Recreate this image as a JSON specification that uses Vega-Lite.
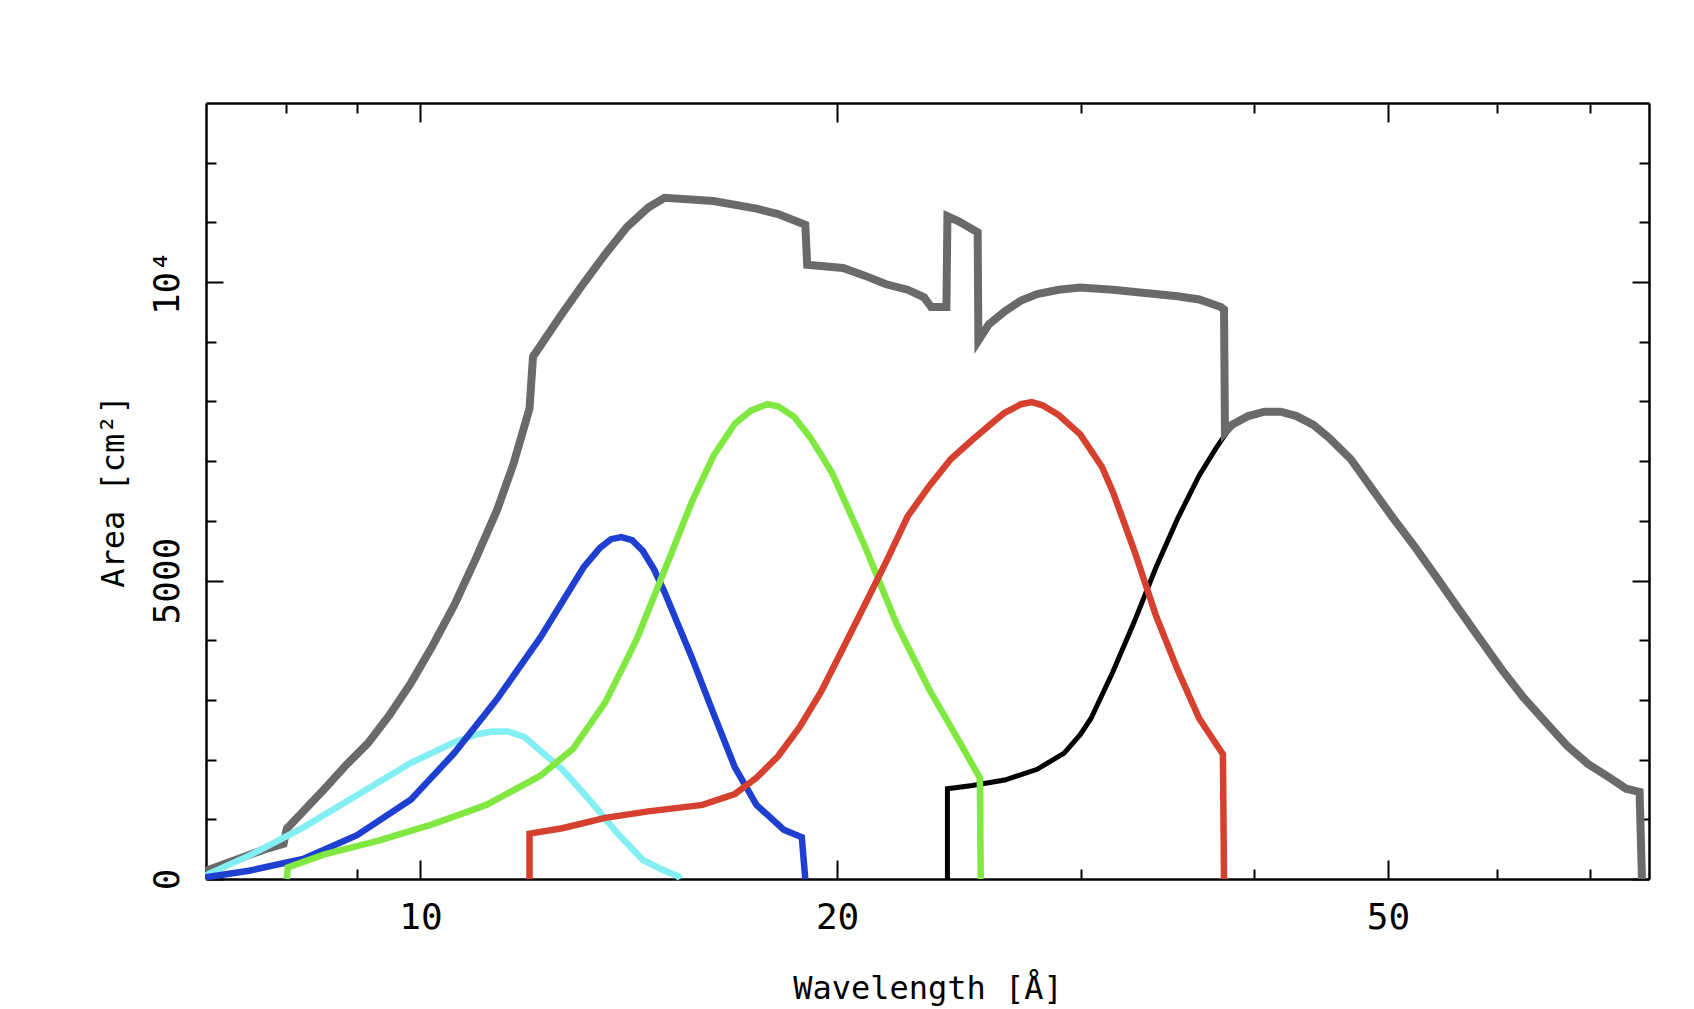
{
  "$schema": "https://vega.github.io/schema/vega-lite/v6.json",
  "width": 1443,
  "height": 776,
  "autosize": {"type": "none"},
  "padding": {"left": 206, "top": 103, "right": 45, "bottom": 130},
  "background": "white",
  "config": {"view": {"stroke": null}},
  "data": {"values": [
    {"s":"black","o":1,"w":24.03,"a":0},{"s":"black","o":2,"w":24.03,"a":1513},{"s":"black","o":3,"w":25.05,"a":1567},{"s":"black","o":4,"w":26.43,"a":1658},{"s":"black","o":5,"w":27.90,"a":1838},{"s":"black","o":6,"w":29.18,"a":2110},{"s":"black","o":7,"w":29.97,"a":2418},{"s":"black","o":8,"w":30.51,"a":2689},{"s":"black","o":9,"w":31.64,"a":3467},{"s":"black","o":10,"w":32.80,"a":4317},{"s":"black","o":11,"w":34.00,"a":5223},{"s":"black","o":12,"w":35.24,"a":6037},{"s":"black","o":13,"w":36.53,"a":6761},{"s":"black","o":14,"w":37.56,"a":7213},{"s":"black","o":15,"w":38.58,"a":7611},
    {"s":"total","o":1,"w":7.0,"a":138},{"s":"total","o":2,"w":7.386,"a":337},{"s":"total","o":3,"w":7.725,"a":500},{"s":"total","o":4,"w":7.964,"a":590},{"s":"total","o":5,"w":8.007,"a":843},{"s":"total","o":6,"w":8.527,"a":1513},{"s":"total","o":7,"w":8.839,"a":1911},{"s":"total","o":8,"w":9.162,"a":2273},{"s":"total","o":9,"w":9.497,"a":2743},{"s":"total","o":10,"w":9.845,"a":3286},{"s":"total","o":11,"w":10.20,"a":3901},{"s":"total","o":12,"w":10.58,"a":4589},{"s":"total","o":13,"w":10.965,"a":5367},{"s":"total","o":14,"w":11.36,"a":6181},{"s":"total","o":15,"w":11.67,"a":6942},{"s":"total","o":16,"w":11.99,"a":7882},{"s":"total","o":17,"w":12.06,"a":8750},{"s":"total","o":18,"w":12.66,"a":9473},{"s":"total","o":19,"w":13.12,"a":9980},{"s":"total","o":20,"w":13.60,"a":10467},{"s":"total","o":21,"w":14.10,"a":10923},{"s":"total","o":22,"w":14.61,"a":11249},{"s":"total","o":23,"w":15.01,"a":11411},{"s":"total","o":24,"w":16.28,"a":11357},{"s":"total","o":25,"w":17.49,"a":11230},{"s":"total","o":26,"w":18.13,"a":11140},{"s":"total","o":27,"w":18.97,"a":10959},{"s":"total","o":28,"w":19.03,"a":10289},{"s":"total","o":29,"w":20.20,"a":10235},{"s":"total","o":30,"w":20.94,"a":10108},{"s":"total","o":31,"w":21.70,"a":9963},{"s":"total","o":32,"w":22.49,"a":9872},{"s":"total","o":33,"w":23.11,"a":9745},{"s":"total","o":34,"w":23.39,"a":9582},{"s":"total","o":35,"w":23.99,"a":9582},{"s":"total","o":36,"w":24.03,"a":11104},{"s":"total","o":37,"w":24.5,"a":11014},{"s":"total","o":38,"w":25.27,"a":10832},{"s":"total","o":39,"w":25.3,"a":9021},{"s":"total","o":40,"w":25.74,"a":9292},{"s":"total","o":41,"w":26.43,"a":9509},{"s":"total","o":42,"w":27.16,"a":9691},{"s":"total","o":43,"w":27.90,"a":9800},{"s":"total","o":44,"w":28.92,"a":9872},{"s":"total","o":45,"w":29.97,"a":9908},{"s":"total","o":46,"w":31.64,"a":9872},{"s":"total","o":47,"w":33.39,"a":9818},{"s":"total","o":48,"w":35.24,"a":9763},{"s":"total","o":49,"w":36.53,"a":9709},{"s":"total","o":50,"w":37.87,"a":9582},{"s":"total","o":51,"w":38.07,"a":9540},{"s":"total","o":52,"w":38.13,"a":7484},{"s":"total","o":53,"w":38.58,"a":7611},{"s":"total","o":54,"w":39.64,"a":7755},{"s":"total","o":55,"w":40.72,"a":7828},{"s":"total","o":56,"w":41.83,"a":7828},{"s":"total","o":57,"w":42.95,"a":7755},{"s":"total","o":58,"w":44.15,"a":7611},{"s":"total","o":59,"w":45.33,"a":7394},{"s":"total","o":60,"w":47.01,"a":7032},{"s":"total","o":61,"w":48.73,"a":6526},{"s":"total","o":62,"w":50.47,"a":6037},{"s":"total","o":63,"w":52.36,"a":5548},{"s":"total","o":64,"w":54.27,"a":5041},{"s":"total","o":65,"w":56.21,"a":4534},{"s":"total","o":66,"w":58.32,"a":4010},{"s":"total","o":67,"w":60.45,"a":3504},{"s":"total","o":68,"w":62.60,"a":3051},{"s":"total","o":69,"w":64.95,"a":2635},{"s":"total","o":70,"w":67.33,"a":2237},{"s":"total","o":71,"w":69.72,"a":1929},{"s":"total","o":72,"w":72.34,"a":1694},{"s":"total","o":73,"w":74.31,"a":1513},{"s":"total","o":74,"w":76.0,"a":1459},{"s":"total","o":75,"w":76.3,"a":0},
    {"s":"cyan","o":1,"w":7.0,"a":65},{"s":"cyan","o":2,"w":7.52,"a":391},{"s":"cyan","o":3,"w":8.226,"a":861},{"s":"cyan","o":4,"w":9.0,"a":1404},{"s":"cyan","o":5,"w":9.845,"a":1947},{"s":"cyan","o":6,"w":10.58,"a":2291},{"s":"cyan","o":7,"w":10.965,"a":2418},{"s":"cyan","o":8,"w":11.26,"a":2472},{"s":"cyan","o":9,"w":11.572,"a":2472},{"s":"cyan","o":10,"w":11.888,"a":2381},{"s":"cyan","o":11,"w":12.21,"a":2146},{"s":"cyan","o":12,"w":12.66,"a":1838},{"s":"cyan","o":13,"w":13.24,"a":1332},{"s":"cyan","o":14,"w":13.85,"a":789},{"s":"cyan","o":15,"w":14.48,"a":318},{"s":"cyan","o":16,"w":15.01,"a":138},{"s":"cyan","o":17,"w":15.36,"a":47},{"s":"cyan","o":18,"w":15.4,"a":0},
    {"s":"blue","o":1,"w":7.0,"a":29},{"s":"blue","o":2,"w":7.52,"a":138},{"s":"blue","o":3,"w":8.226,"a":337},{"s":"blue","o":4,"w":9.0,"a":735},{"s":"blue","o":5,"w":9.845,"a":1332},{"s":"blue","o":6,"w":10.58,"a":2110},{"s":"blue","o":7,"w":11.36,"a":3015},{"s":"blue","o":8,"w":12.21,"a":4046},{"s":"blue","o":9,"w":13.12,"a":5223},{"s":"blue","o":10,"w":13.48,"a":5548},{"s":"blue","o":11,"w":13.73,"a":5693},{"s":"blue","o":12,"w":13.97,"a":5729},{"s":"blue","o":13,"w":14.22,"a":5675},{"s":"blue","o":14,"w":14.48,"a":5494},{"s":"blue","o":15,"w":14.75,"a":5187},{"s":"blue","o":16,"w":15.01,"a":4807},{"s":"blue","o":17,"w":15.43,"a":4137},{"s":"blue","o":18,"w":15.70,"a":3720},{"s":"blue","o":19,"w":16.28,"a":2780},{"s":"blue","o":20,"w":16.87,"a":1875},{"s":"blue","o":21,"w":17.49,"a":1241},{"s":"blue","o":22,"w":18.30,"a":825},{"s":"blue","o":23,"w":18.86,"a":699},{"s":"blue","o":24,"w":18.97,"a":0},
    {"s":"green","o":1,"w":8.007,"a":0},{"s":"green","o":2,"w":8.02,"a":195},{"s":"green","o":3,"w":8.527,"a":413},{"s":"green","o":4,"w":9.328,"a":644},{"s":"green","o":5,"w":10.20,"a":916},{"s":"green","o":6,"w":11.16,"a":1241},{"s":"green","o":7,"w":12.21,"a":1730},{"s":"green","o":8,"w":12.89,"a":2182},{"s":"green","o":9,"w":13.60,"a":2961},{"s":"green","o":10,"w":13.85,"a":3323},{"s":"green","o":11,"w":14.10,"a":3684},{"s":"green","o":12,"w":14.35,"a":4046},{"s":"green","o":13,"w":14.61,"a":4498},{"s":"green","o":14,"w":15.15,"a":5403},{"s":"green","o":15,"w":15.70,"a":6308},{"s":"green","o":16,"w":16.28,"a":7086},{"s":"green","o":17,"w":16.87,"a":7629},{"s":"green","o":18,"w":17.33,"a":7846},{"s":"green","o":19,"w":17.81,"a":7954},{"s":"green","o":20,"w":18.13,"a":7918},{"s":"green","o":21,"w":18.63,"a":7737},{"s":"green","o":22,"w":19.13,"a":7394},{"s":"green","o":23,"w":19.48,"a":7104},{"s":"green","o":24,"w":19.84,"a":6797},{"s":"green","o":25,"w":20.94,"a":5584},{"s":"green","o":26,"w":22.09,"a":4263},{"s":"green","o":27,"w":23.31,"a":3178},{"s":"green","o":28,"w":24.60,"a":2237},{"s":"green","o":29,"w":25.36,"a":1694},{"s":"green","o":30,"w":25.4,"a":0},
    {"s":"red","o":1,"w":11.99,"a":0},{"s":"red","o":2,"w":11.99,"a":760},{"s":"red","o":3,"w":12.66,"a":851},{"s":"red","o":4,"w":13.60,"a":1024},{"s":"red","o":5,"w":14.61,"a":1133},{"s":"red","o":6,"w":15.99,"a":1241},{"s":"red","o":7,"w":16.87,"a":1422},{"s":"red","o":8,"w":17.49,"a":1694},{"s":"red","o":9,"w":18.13,"a":2056},{"s":"red","o":10,"w":18.79,"a":2544},{"s":"red","o":11,"w":19.48,"a":3142},{"s":"red","o":12,"w":20.20,"a":3865},{"s":"red","o":13,"w":20.94,"a":4589},{"s":"red","o":14,"w":21.70,"a":5313},{"s":"red","o":15,"w":22.49,"a":6073},{"s":"red","o":16,"w":23.31,"a":6580},{"s":"red","o":17,"w":24.16,"a":7032},{"s":"red","o":18,"w":25.05,"a":7358},{"s":"red","o":19,"w":25.96,"a":7665},{"s":"red","o":20,"w":26.43,"a":7810},{"s":"red","o":21,"w":27.16,"a":7954},{"s":"red","o":22,"w":27.65,"a":7990},{"s":"red","o":23,"w":28.15,"a":7936},{"s":"red","o":24,"w":28.92,"a":7773},{"s":"red","o":25,"w":29.97,"a":7448},{"s":"red","o":26,"w":31.07,"a":6906},{"s":"red","o":27,"w":31.64,"a":6489},{"s":"red","o":28,"w":32.80,"a":5494},{"s":"red","o":29,"w":34.00,"a":4408},{"s":"red","o":30,"w":35.24,"a":3504},{"s":"red","o":31,"w":36.53,"a":2689},{"s":"red","o":32,"w":38.0,"a":2092},{"s":"red","o":33,"w":38.07,"a":0}
  ]},
  "resolve": {"axis": {"x": "independent", "y": "independent"}},
  "layer": [
    {
      "transform": [{"filter": "datum.s == 'black'"}],
      "mark": {"type": "line", "color": "#000000", "strokeWidth": 5, "strokeCap": "butt"},
      "encoding": {
        "x": {"field": "w", "type": "quantitative",
          "scale": {"type": "log", "domain": [7, 77.2], "nice": false},
          "axis": {"orient": "bottom", "values": [8, 9, 10, 20, 30, 40, 50, 60, 70],
            "tickSize": {"condition": {"test": "datum.value == 10 || datum.value == 20 || datum.value == 50", "value": -19}, "value": -10},
            "tickWidth": 2, "tickColor": "black", "domainColor": "black", "domainWidth": 2.5, "grid": false,
            "format": "d",
            "labelExpr": "datum.value == 10 || datum.value == 20 || datum.value == 50 ? datum.label : ''",
            "labelFont": "DejaVu Sans Mono", "labelFontSize": 36, "labelColor": "black", "labelPadding": 40,
            "labelBaseline": "top", "labelAlign": "center", "labelFlush": false, "labelOverlap": false,
            "title": "Wavelength [Å]", "titleFont": "DejaVu Sans Mono", "titleFontSize": 32, "titleFontWeight": "normal",
            "titleColor": "black", "titleX": 721.5, "titleY": 109, "titleBaseline": "middle", "titleAlign": "center"}},
        "y": {"field": "a", "type": "quantitative",
          "scale": {"domain": [0, 13000], "nice": false, "zero": false},
          "axis": {"orient": "left", "values": [0, 1000, 2000, 3000, 4000, 5000, 6000, 7000, 8000, 9000, 10000, 11000, 12000],
            "tickSize": {"condition": {"test": "datum.value % 5000 == 0", "value": -17}, "value": -10},
            "tickWidth": 2, "tickColor": "black", "domainColor": "black", "domainWidth": 2.5, "grid": false,
            "labelExpr": "datum.value == 0 ? '0' : datum.value == 5000 ? '5000' : datum.value == 10000 ? '10⁴' : ''",
            "labelFont": "DejaVu Sans Mono", "labelFontSize": 36, "labelColor": "black", "labelPadding": 56,
            "labelAngle": 270, "labelAlign": "center", "labelBaseline": "middle", "labelFlush": false, "labelOverlap": false,
            "title": "Area [cm²]", "titleFont": "DejaVu Sans Mono", "titleFontSize": 32, "titleFontWeight": "normal",
            "titleColor": "black", "titleAngle": 270, "titleX": -93, "titleY": 388, "titleBaseline": "middle", "titleAlign": "center"}},
        "order": {"field": "o", "type": "quantitative"}
      }
    },
    {
      "transform": [{"filter": "datum.s == 'total'"}],
      "mark": {"type": "line", "color": "#6a6a6a", "strokeWidth": 8, "strokeCap": "butt"},
      "encoding": {
        "x": {"field": "w", "type": "quantitative",
          "scale": {"type": "log", "domain": [7, 77.2], "nice": false},
          "axis": {"orient": "top", "values": [8, 9, 10, 20, 30, 40, 50, 60, 70],
            "tickSize": {"condition": {"test": "datum.value == 10 || datum.value == 20 || datum.value == 50", "value": -19}, "value": -10},
            "tickWidth": 2, "tickColor": "black", "domainColor": "black", "domainWidth": 2.5, "grid": false,
            "labels": false, "title": null}},
        "y": {"field": "a", "type": "quantitative",
          "scale": {"domain": [0, 13000], "nice": false, "zero": false},
          "axis": {"orient": "right", "values": [0, 1000, 2000, 3000, 4000, 5000, 6000, 7000, 8000, 9000, 10000, 11000, 12000],
            "tickSize": {"condition": {"test": "datum.value % 5000 == 0", "value": -17}, "value": -10},
            "tickWidth": 2, "tickColor": "black", "domainColor": "black", "domainWidth": 2.5, "grid": false,
            "labels": false, "title": null}},
        "order": {"field": "o", "type": "quantitative"}
      }
    },
    {
      "transform": [{"filter": "datum.s == 'cyan'"}],
      "mark": {"type": "line", "color": "#84eff2", "strokeWidth": 6.5, "strokeCap": "butt"},
      "encoding": {
        "x": {"field": "w", "type": "quantitative", "scale": {"type": "log", "domain": [7, 77.2], "nice": false}, "axis": null},
        "y": {"field": "a", "type": "quantitative", "scale": {"domain": [0, 13000], "nice": false, "zero": false}, "axis": null},
        "order": {"field": "o", "type": "quantitative"}
      }
    },
    {
      "transform": [{"filter": "datum.s == 'blue'"}],
      "mark": {"type": "line", "color": "#1f3fd1", "strokeWidth": 6.5, "strokeCap": "butt"},
      "encoding": {
        "x": {"field": "w", "type": "quantitative", "scale": {"type": "log", "domain": [7, 77.2], "nice": false}, "axis": null},
        "y": {"field": "a", "type": "quantitative", "scale": {"domain": [0, 13000], "nice": false, "zero": false}, "axis": null},
        "order": {"field": "o", "type": "quantitative"}
      }
    },
    {
      "transform": [{"filter": "datum.s == 'green'"}],
      "mark": {"type": "line", "color": "#80e840", "strokeWidth": 6.5, "strokeCap": "butt"},
      "encoding": {
        "x": {"field": "w", "type": "quantitative", "scale": {"type": "log", "domain": [7, 77.2], "nice": false}, "axis": null},
        "y": {"field": "a", "type": "quantitative", "scale": {"domain": [0, 13000], "nice": false, "zero": false}, "axis": null},
        "order": {"field": "o", "type": "quantitative"}
      }
    },
    {
      "transform": [{"filter": "datum.s == 'red'"}],
      "mark": {"type": "line", "color": "#d6402e", "strokeWidth": 6.5, "strokeCap": "butt"},
      "encoding": {
        "x": {"field": "w", "type": "quantitative", "scale": {"type": "log", "domain": [7, 77.2], "nice": false}, "axis": null},
        "y": {"field": "a", "type": "quantitative", "scale": {"domain": [0, 13000], "nice": false, "zero": false}, "axis": null},
        "order": {"field": "o", "type": "quantitative"}
      }
    }
  ]
}
